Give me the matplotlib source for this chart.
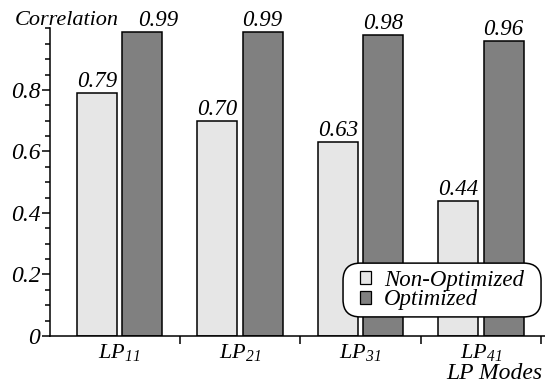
import matplotlib
matplotlib.use("Agg")
import matplotlib.pyplot as plt
import numpy as np
from matplotlib.ticker import FixedLocator, MultipleLocator
from matplotlib.patches import Patch, FancyBboxPatch

# data
modes = [r"$LP_{11}$", r"$LP_{21}$", r"$LP_{31}$", r"$LP_{41}$"]
non_optimized = [0.79, 0.70, 0.63, 0.44]
optimized = [0.99, 0.99, 0.98, 0.96]
value_labels_non = ["0.79", "0.70", "0.63", "0.44"]
value_labels_opt = ["0.99", "0.99", "0.98", "0.96"]

plt.rcParams["font.family"] = "Liberation Serif"
plt.rcParams["font.style"] = "italic"
plt.rcParams["mathtext.fontset"] = "custom"
plt.rcParams["mathtext.rm"] = "Liberation Serif:italic"
plt.rcParams["mathtext.it"] = "Liberation Serif:italic"

fig = plt.figure(figsize=(5.45, 3.85), dpi=100)
ax = fig.add_axes([0.0917, 0.1273, 0.9083, 0.7987])

x = np.arange(len(modes))
w = 0.332
off = 0.187
ax.bar(x - off, non_optimized, w, color="#e6e6e6", edgecolor="black", lw=1.1)
ax.bar(x + off, optimized, w, color="#808080", edgecolor="black", lw=1.1)

# value labels (first optimized label nudged right, clear of the axis title)
for i in range(len(modes)):
    ax.text(x[i] - off, non_optimized[i] + 0.003, value_labels_non[i],
            ha="center", va="bottom", fontsize=16.5)
    shift = 0.135 if i == 0 else 0
    ax.text(x[i] + off + shift, optimized[i] + 0.003, value_labels_opt[i],
            ha="center", va="bottom", fontsize=16.5)

ax.set_xlim(-0.577, 3.531)
ax.set_ylim(0, 1.0)

for s in ["top", "right"]:
    ax.spines[s].set_visible(False)
ax.spines["left"].set_linewidth(1.1)
ax.spines["bottom"].set_linewidth(1.1)

# y ticks
ax.yaxis.set_major_locator(FixedLocator([0, 0.2, 0.4, 0.6, 0.8]))
ax.yaxis.set_minor_locator(MultipleLocator(0.05))
ax.set_yticklabels(["0", "0.2", "0.4", "0.6", "0.8"], fontsize=17)
ax.tick_params(axis="y", which="major", length=6, width=1.1, pad=1)
ax.tick_params(axis="y", which="minor", length=3.6, width=1.1)

# x ticks: boundaries as ticks, labels at centers
ax.xaxis.set_major_locator(FixedLocator([0.5, 1.5, 2.5, 3.5]))
ax.xaxis.set_major_formatter(plt.NullFormatter())
ax.xaxis.set_minor_locator(FixedLocator(x))
ax.set_xticklabels(modes, minor=True, fontsize=16)
ax.tick_params(axis="x", which="major", length=5.5, width=1.1)
ax.tick_params(axis="x", which="minor", length=0, pad=4)

fig.text(0.028, 0.947, "Correlation", fontsize=16, ha="left", va="center")
fig.text(0.995, 0.003, "LP Modes", fontsize=17, ha="right", va="bottom")

# legend: rounded frame drawn separately, entries centered inside it
box = FancyBboxPatch((0.592, 0.062), 0.40, 0.175, transform=ax.transAxes,
                     boxstyle="round,pad=0,rounding_size=0.035",
                     facecolor="white", edgecolor="black", lw=1.1,
                     zorder=5, mutation_aspect=1.6, clip_on=False)
ax.add_patch(box)

handles = [Patch(facecolor="#e6e6e6", edgecolor="black", lw=0.9, label="Non-Optimized"),
           Patch(facecolor="#808080", edgecolor="black", lw=0.9, label="Optimized")]
leg = ax.legend(handles=handles, loc="center", bbox_to_anchor=(0.792, 0.1496),
                fontsize=16.5, handlelength=0.5, handleheight=0.5, handletextpad=0.55,
                borderpad=0, borderaxespad=0, labelspacing=-0.05, frameon=False)
leg.set_zorder(6)

fig.savefig("out.png", dpi=100)
